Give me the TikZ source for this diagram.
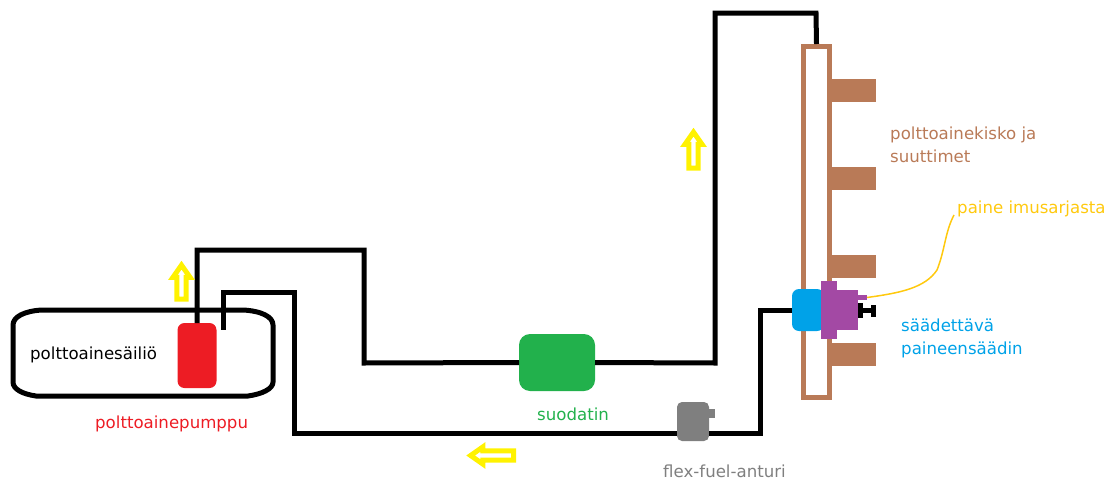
\documentclass[tikz,border=0pt]{standalone}
\usepackage{fontspec}
\setmainfont{DejaVu Sans}
\usetikzlibrary{arrows.meta,positioning,calc,shapes.arrows}
\definecolor{pipeblack}{HTML}{000000}
\definecolor{pumpred}{HTML}{ED1C24}
\definecolor{filtergreen}{HTML}{22B14C}
\definecolor{sensorgray}{HTML}{7F7F7F}
\definecolor{railbrown}{HTML}{B97A57}
\definecolor{regblue}{HTML}{00A2E8}
\definecolor{regpurple}{HTML}{A349A4}
\definecolor{vacamber}{HTML}{FFC90E}
\definecolor{flowyellow}{HTML}{FFF200}

\begin{document}
\begin{tikzpicture}[
  x=1pt, y=-1pt,
  solid/.style={inner sep=0pt, outer sep=0pt, minimum width=#1},
  pipe/.style={draw=pipeblack, line width=5pt, miter limit=10},
  rail/.style={draw=railbrown, fill=white, line width=5pt, inner sep=0pt, minimum width=26pt, minimum height=351pt},
  injector/.style={solid=44pt, fill=railbrown, minimum height=23pt},
  flow/.style={single arrow, draw=flowyellow, fill=white, line width=5pt, inner sep=0pt, minimum width=17pt, single arrow head extend=2pt, single arrow tip angle=70},
  note/.style={inner sep=0pt, anchor=west, align=left, font=\fontsize{16.6pt}{23pt}\selectfont}
]
\useasboundingbox (0,0) rectangle (1111,482);

\draw[pipe] (42,310) -- (243,310) .. controls (262,311) and (273,317) .. (273,325) -- (273,382) .. controls (273,389) and (262,394) .. (248,396) -- (36,396) .. controls (22,394) and (13,389) .. (13,382) -- (13,325) .. controls (13,317) and (24,311) .. (42,310) -- cycle;

\node[solid=39pt, fill=pumpred, rounded corners=7pt, minimum height=65pt] (pump) at (197,355.5) {};
\node[solid=76pt, fill=filtergreen, rounded corners=11pt, minimum height=57pt] (filter) at (557,362.5) {};
\node[solid=32pt, fill=sensorgray, rounded corners=5pt, minimum height=39pt] (sensor) at (693,421.5) {};
\node[solid=6pt, fill=sensorgray, minimum height=9pt, right=0pt of sensor.east, yshift=8pt] (sensortab) {};

\node[rail] (rail) at (816.5,222) {};
\foreach \inj/\y in {a/90.5,b/178.5,c/266.5,d/354} {
  \node[injector] (inj\inj) at (854,\y) {};
}

\node[solid=32pt, fill=regblue, rounded corners=7pt, minimum height=42pt] (regblock) at (808,310) {};
\node[solid=16pt, fill=regpurple, minimum height=58pt] (regflange) at (829,310) {};
\node[solid=21pt, fill=regpurple, minimum height=40pt] (regbody) at (847.5,310) {};
\node[solid=9pt, fill=regpurple, minimum height=5pt] (regtab) at (862.5,297.5) {};
\node[solid=5pt, fill=pipeblack, minimum height=15pt] (knoba) at (860.5,310.5) {};
\node[solid=8pt, fill=pipeblack, minimum height=5pt, right=0pt of knoba] (knobb) {};
\node[solid=5pt, fill=pipeblack, minimum height=12pt, right=0pt of knobb] (knobc) {};

\draw[pipe] (pump.north) -- (197,250) -- (364,250) -- (364,363) -- (filter.west);
\draw[pipe] (filter.east) -- (715,363) -- (715,13) -- (816,13) -- (rail.north);
\draw[pipe] (regblock.west) -- (760,310) -- (760,433) -- (sensor.east |- 0,433);
\draw[pipe] (sensor.west |- 0,433) -- (294,433) -- (294,292) -- (223,292) -- (223,330);

\node[flow, shape border rotate=90, minimum height=34pt] (flowa) at (181.5,285.5) {};
\node[flow, shape border rotate=90, minimum height=36pt] (flowb) at (693.5,153.5) {};
\node[flow, shape border rotate=180, minimum height=43pt] (flowc) at (495.5,455.5) {};

\node[note] (tanklabel) at (30,355) {polttoainesäiliö};
\node[note, text=pumpred] (pumplabel) at (95,424) {polttoainepumppu};
\node[note, text=filtergreen] (filterlabel) at (537,414) {suodatin};
\node[note, text=sensorgray] (sensorlabel) at (663,471) {flex-fuel-anturi};
\node[note, text=railbrown] (raillabel) at (890,145) {polttoainekisko ja\\suuttimet};
\node[note, text=vacamber] (vaclabel) at (957,209) {paine imusarjasta};
\node[note, text=regblue] (reglabel) at (901,338) {säädettävä\\paineensäädin};

\draw[draw=vacamber, line width=1.5pt] (regtab.east) .. controls (900,293) and (925,288) .. (937,270) .. controls (945,250) and (945,232) .. ($(vaclabel.west)+(-3,6)$);
\end{tikzpicture}
\end{document}
